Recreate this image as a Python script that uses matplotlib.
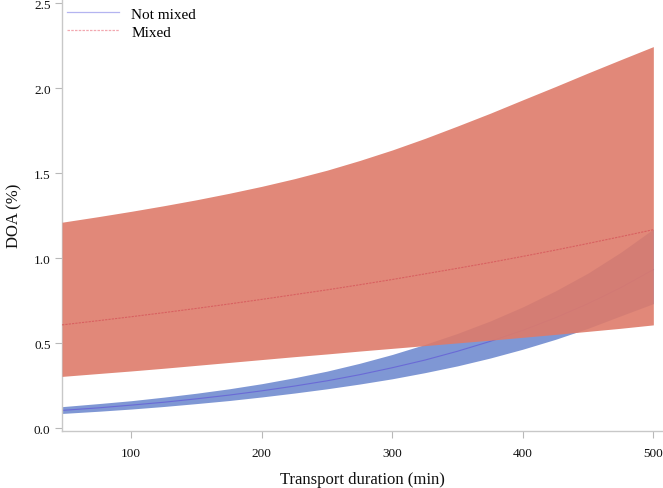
import matplotlib
matplotlib.use("Agg")
import matplotlib.pyplot as plt

# Transport duration (min)
duration = [47, 75, 100, 125, 150, 175, 200, 225, 250, 275, 300,
            325, 350, 375, 400, 425, 450, 475, 500]

# Not mixed: estimate and confidence band
notmixed_mean = [0.105, 0.120, 0.136, 0.153, 0.173, 0.195, 0.220, 0.248, 0.279, 0.315, 0.356,
                 0.401, 0.453, 0.511, 0.576, 0.650, 0.733, 0.827, 0.933]
notmixed_low = [0.087, 0.100, 0.113, 0.128, 0.145, 0.163, 0.184, 0.207, 0.232, 0.260, 0.291,
                0.327, 0.367, 0.413, 0.465, 0.523, 0.588, 0.661, 0.733]
notmixed_high = [0.127, 0.145, 0.162, 0.183, 0.206, 0.232, 0.262, 0.297, 0.336, 0.382, 0.434,
                 0.493, 0.558, 0.631, 0.714, 0.808, 0.913, 1.035, 1.172]

# Mixed: estimate and confidence band
mixed_mean = [0.608, 0.633, 0.656, 0.680, 0.705, 0.731, 0.758, 0.786, 0.814, 0.844, 0.875,
              0.908, 0.941, 0.975, 1.011, 1.048, 1.087, 1.127, 1.168]
mixed_low = [0.305, 0.322, 0.337, 0.353, 0.370, 0.387, 0.404, 0.421, 0.437, 0.454, 0.470,
             0.486, 0.502, 0.518, 0.535, 0.552, 0.570, 0.588, 0.608]
mixed_high = [1.212, 1.245, 1.276, 1.309, 1.344, 1.382, 1.423, 1.468, 1.518, 1.575, 1.637,
              1.705, 1.778, 1.853, 1.932, 2.010, 2.090, 2.168, 2.245]

xticks = [100, 200, 300, 400, 500]
yticks = [0.0, 0.5, 1.0, 1.5, 2.0, 2.5]

plt.rcParams['font.family'] = ['Liberation Serif', 'DejaVu Serif']

fig = plt.figure(figsize=(6.63, 4.89), dpi=100)
ax = fig.add_axes([61.7 / 663, 1 - 432.3 / 489, 1 - 61.7 / 663, 432.3 / 489])

ax.fill_between(duration, notmixed_low, notmixed_high, color='#7f97d4', linewidth=0, zorder=1)
ax.plot(duration, notmixed_mean, color='#6a6ad6', linewidth=0.8, zorder=2)
ax.fill_between(duration, mixed_low, mixed_high, color='#de7b6a', alpha=0.9, linewidth=0, zorder=3)
ax.plot(duration, mixed_mean, color='#d86060', linewidth=0.8, linestyle=(0, (2, 1)), zorder=4)

# legend handles
ax.plot([], [], color='#b4b4f0', linewidth=0.9, label='Not mixed')
ax.plot([], [], color='#f2a8b0', linewidth=0.9, linestyle=(0, (2, 1)), label='Mixed')
handles, labels = ax.get_legend_handles_labels()
ax.legend(handles[-2:], labels[-2:], loc='upper left', bbox_to_anchor=(0.0, 0.994),
          frameon=False, fontsize=11, handlelength=3.4, handletextpad=0.8,
          labelspacing=0.28, borderaxespad=0.15, borderpad=0.2)

ax.set_xlim(46.7, 507.4)
ax.set_ylim(-0.018, 2.525)
ax.set_xticks(xticks)
ax.set_xticklabels([str(t) for t in xticks])
ax.set_yticks(yticks)
ax.set_yticklabels([f"{t:.1f}" for t in yticks])

for s in ['top', 'right']:
    ax.spines[s].set_visible(False)
for s in ['left', 'bottom']:
    ax.spines[s].set_color('#c8c8c8')
    ax.spines[s].set_linewidth(1.0)
ax.tick_params(axis='both', colors='#b8b8b8', labelcolor='#111111', labelsize=9.5,
               length=5, width=0.8, direction='out')
ax.tick_params(axis='x', pad=6)
ax.tick_params(axis='y', pad=3)

ax.set_xlabel('Transport duration (min)', fontsize=12, labelpad=9, color='#111111')
ax.set_ylabel('DOA (%)', fontsize=12, labelpad=8, color='#111111')

fig.savefig('out.png', dpi=100)
